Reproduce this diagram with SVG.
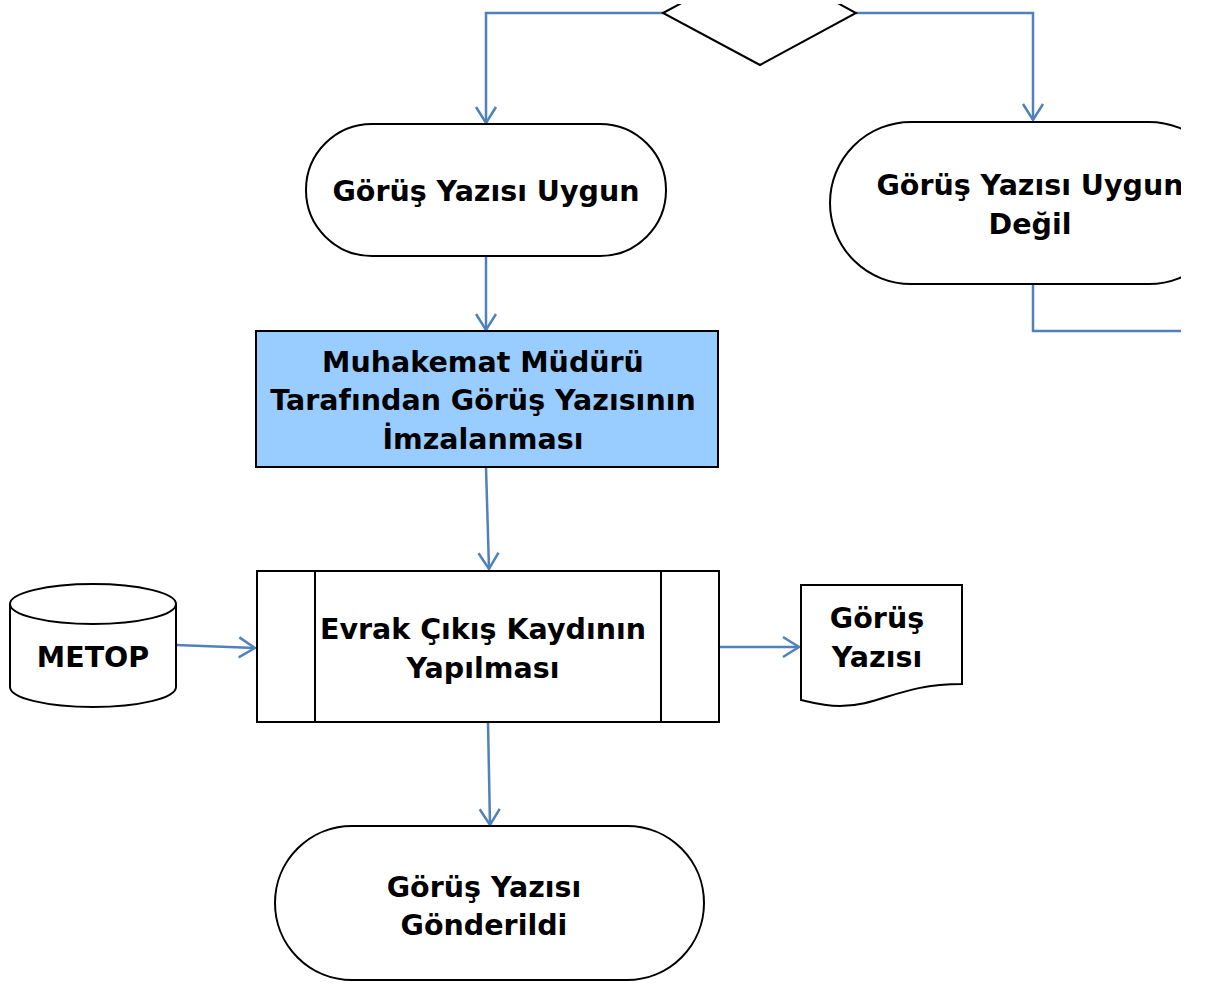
<svg xmlns="http://www.w3.org/2000/svg" width="1209" height="988" viewBox="0 0 1209 988">
<style>
.c{fill:none;stroke:#4F81BD;stroke-width:2.5}
.s{stroke:#000;stroke-width:2}
.t{font-family:"DejaVu Sans",Verdana,sans-serif;font-weight:bold;font-size:28.5px;fill:#000;text-anchor:middle}
</style>
<defs>
<marker id="a" markerUnits="userSpaceOnUse" markerWidth="40" markerHeight="40" viewBox="-20 -20 40 40" refX="0" refY="0" orient="auto">
<path d="M-16,-10 L0,0 L-16,10" fill="none" stroke="#4F81BD" stroke-width="2.5"/>
</marker>
<clipPath id="cp"><rect x="0" y="4" width="1181" height="984"/></clipPath>
</defs>
<rect width="1209" height="988" fill="#fff"/>
<g clip-path="url(#cp)">
<g id="connectors">
<path class="c" d="M663,13 H486 V123" marker-end="url(#a)"/>
<path class="c" d="M856,13 H1033 V120" marker-end="url(#a)"/>
<path class="c" d="M1033,284 V331 H1200"/>
<path class="c" d="M486,256 V330" marker-end="url(#a)"/>
<path class="c" d="M486,467 L489,569" marker-end="url(#a)"/>
<path class="c" d="M176,645 L255,648" marker-end="url(#a)"/>
<path class="c" d="M719,647 H799" marker-end="url(#a)"/>
<path class="c" d="M488,722 L490,825" marker-end="url(#a)"/>
</g>
<g id="decision">
<polygon class="s" points="663,13 760,-39 856,13 760,65" fill="#fff"/>
</g>
<g id="uygun">
<rect class="s" x="306" y="124" width="360" height="132" rx="66" fill="#fff"/>
<text class="t" x="486" y="201">Görüş Yazısı Uygun</text>
</g>
<g id="uygunDegil">
<rect class="s" x="830" y="122" width="400" height="162" rx="81" fill="#fff"/>
<text class="t" x="1030" y="195">Görüş Yazısı Uygun</text>
<text class="t" x="1030" y="234">Değil</text>
</g>
<g id="imza">
<rect class="s" x="256" y="331" width="462" height="136" fill="#99CCFF"/>
<text class="t" x="483" y="372">Muhakemat Müdürü</text>
<text class="t" x="483" y="410">Tarafından Görüş Yazısının</text>
<text class="t" x="483" y="449">İmzalanması</text>
</g>
<g id="cikis">
<rect class="s" x="257" y="571" width="462" height="151" fill="#fff"/>
<line class="s" x1="315" y1="571" x2="315" y2="722"/>
<line class="s" x1="661" y1="571" x2="661" y2="722"/>
<text class="t" x="483" y="639">Evrak Çıkış Kaydının</text>
<text class="t" x="483" y="678">Yapılması</text>
</g>
<g id="metop">
<path class="s" d="M10,604 V687 A83,20 0 0 0 176,687 V604" fill="#fff"/>
<ellipse class="s" cx="93" cy="604" rx="83" ry="20" fill="#fff"/>
<text class="t" x="93" y="667">METOP</text>
</g>
<g id="belge">
<path class="s" d="M801,585 H962 V684 C900,684 880,706 840,706 C822,706 810,702 801,700 Z" fill="#fff"/>
<text class="t" x="877" y="628">Görüş</text>
<text class="t" x="877" y="667">Yazısı</text>
</g>
<g id="gonderildi">
<rect class="s" x="275" y="826" width="429" height="154" rx="77" fill="#fff"/>
<text class="t" x="484" y="897">Görüş Yazısı</text>
<text class="t" x="484" y="935">Gönderildi</text>
</g>
</g>
</svg>
